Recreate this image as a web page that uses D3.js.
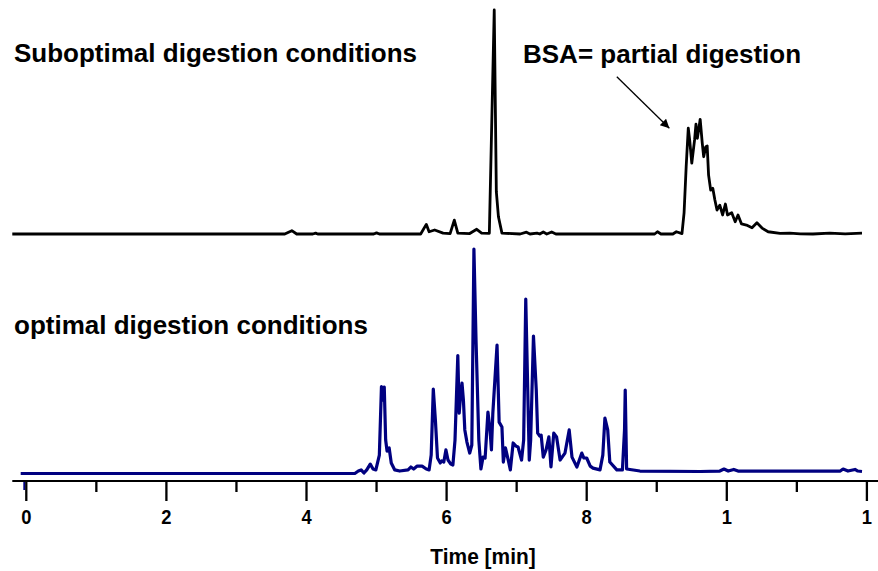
<!DOCTYPE html>
<html>
<head>
<meta charset="utf-8">
<script src="https://cdn.jsdelivr.net/npm/d3@7/dist/d3.min.js"></script>
<style>
  html, body { margin: 0; padding: 0; background: #fff; }
  svg { display: block; }
  text { font-family: "Liberation Sans", Arial, Helvetica, sans-serif; font-weight: bold; fill: #000; }
</style>
</head>
<body>
<svg id="chart" width="878" height="571"></svg>
<script>
// ---- Data (time in min, signal in % of the panel's largest peak) ----
const topTime = [-0.20, 3.69, 3.79, 3.86, 4.09, 4.13, 4.16, 4.96, 5.00, 5.04, 5.63, 5.71, 5.75, 5.83, 5.95, 6.05, 6.11, 6.16, 6.33, 6.43, 6.50, 6.61, 6.68, 6.71, 6.74, 6.79, 7.05, 7.14, 7.19, 7.29, 7.33, 7.38, 7.43, 7.50, 7.56, 8.97, 9.01, 9.06, 9.23, 9.28, 9.36, 9.39, 9.42, 9.45, 9.47, 9.50, 9.54, 9.56, 9.58, 9.62, 9.65, 9.67, 9.70, 9.72, 9.74, 9.77, 9.80, 9.83, 9.86, 9.90, 9.94, 9.98, 10.01, 10.07, 10.12, 10.16, 10.21, 10.28, 10.36, 10.43, 10.51, 10.59, 10.76, 10.90, 11.05, 11.23, 11.47, 11.69, 11.93];
const topSignal = [0, 0, 1.5, 0, 0, 0.4, 0, 0, 0.5, 0, 0, 4.3, 1.0, 1.8, 0.4, 0.2, 6.2, 0.4, 0.2, 2.1, 0.4, 0.3, 100, 18.9, 7.7, 0.4, 0, 0.8, 0, 0.4, 0, 0.9, 0, 0.9, 0, 0, 1.0, 0, 0, 1.0, 0.2, 9.4, 30, 47.2, 42, 31.6, 42, 49, 42.7, 51.2, 40.5, 34.5, 39, 39.3, 26.3, 19.6, 20.4, 15.2, 10.7, 12.9, 8.5, 13.4, 8.5, 9.5, 5.5, 8.5, 4.5, 4.0, 2.8, 5.0, 2.5, 1.0, 0.3, 0.4, 0.1, 0, 0.4, 0.1, 0.4];

const bottomTime = [-0.08, 4.69, 4.74, 4.78, 4.82, 4.86, 4.91, 4.95, 4.99, 5.04, 5.07, 5.09, 5.11, 5.13, 5.15, 5.18, 5.21, 5.26, 5.33, 5.45, 5.49, 5.53, 5.58, 5.65, 5.71, 5.75, 5.78, 5.81, 5.84, 5.87, 5.91, 5.93, 5.96, 5.99, 6.02, 6.06, 6.09, 6.12, 6.16, 6.18, 6.20, 6.22, 6.24, 6.26, 6.29, 6.33, 6.36, 6.39, 6.42, 6.46, 6.49, 6.52, 6.55, 6.59, 6.62, 6.64, 6.66, 6.72, 6.75, 6.79, 6.81, 6.84, 6.88, 6.91, 6.95, 6.99, 7.02, 7.07, 7.10, 7.13, 7.18, 7.20, 7.24, 7.28, 7.30, 7.33, 7.35, 7.38, 7.42, 7.46, 7.49, 7.53, 7.57, 7.62, 7.69, 7.75, 7.79, 7.86, 7.93, 7.96, 8.00, 8.05, 8.09, 8.19, 8.23, 8.26, 8.30, 8.33, 8.43, 8.51, 8.54, 8.55, 8.57, 8.76, 9.62, 9.90, 9.96, 10.02, 10.10, 10.16, 11.62, 11.66, 11.73, 11.83, 11.87, 11.93];
const bottomSignal = [0, 0, 1.1, 1.6, 0.2, 1.6, 4.2, 2.0, 1.6, 8.2, 38.7, 32.7, 38.5, 14.9, 10.0, 11.4, 4.7, 1.6, 1.1, 1.6, 2.9, 2.0, 3.3, 3.3, 2.0, 1.6, 8.2, 37.6, 23.8, 6.9, 4.7, 5.6, 5.1, 10.5, 6.0, 4.2, 3.8, 14.9, 52.5, 26.9, 35.0, 40.3, 32.7, 19.4, 14.0, 9.1, 12.7, 100, 59.5, 14.9, 2.0, 7.3, 6.9, 27.4, 19.4, 10.5, 26.9, 57.2, 22.9, 20.7, 5.1, 11.4, 6.0, 1.6, 13.6, 12.2, 11.8, 6.0, 14.9, 77.7, 6.0, 14.9, 61.2, 37.2, 18.0, 16.7, 17.1, 7.3, 10.5, 16.3, 2.9, 18.0, 16.3, 6.0, 9.1, 19.4, 7.3, 2.9, 9.1, 6.9, 6.9, 3.3, 2.4, 1.6, 8.2, 24.7, 19.4, 5.1, 1.6, 1.6, 19.4, 37.2, 2.0, 1.1, 0.9, 1.1, 2.0, 1.1, 1.8, 1.1, 1.1, 2.0, 1.1, 1.8, 1.1, 0.9];

const majorTicks = [0, 2, 4, 6, 8, 10, 12];
const tickLabels = ["0", "2", "4", "6", "8", "1", "1"];
const minorTicks = [1, 3, 5, 7, 9, 11];

// Annotation arrow (time, top signal)
const arrowFrom = [8.43, 70.2];
const arrowTo = [9.18, 47.2];

// ---- Scales ----
const svg = d3.select("#chart");
const x = d3.scaleLinear().domain([0, 12]).range([26.3, 866.9]);
const yTop = d3.scaleLinear().domain([0, 100]).range([234, 10]);
const yBot = d3.scaleLinear().domain([0, 100]).range([473.5, 249]);
const axisY = 481;

// ---- Traces ----
const topData = topTime.map((t, i) => [t, topSignal[i]]);
const botData = bottomTime.map((t, i) => [t, bottomSignal[i]]);

svg.append("path")
  .datum(topData)
  .attr("fill", "none")
  .attr("stroke", "#000")
  .attr("stroke-width", 2.8)
  .attr("stroke-linejoin", "round")
  .attr("d", d3.line().x(d => x(d[0])).y(d => yTop(d[1])));

svg.append("path")
  .datum(botData)
  .attr("fill", "none")
  .attr("stroke", "#000080")
  .attr("stroke-width", 3.2)
  .attr("stroke-linejoin", "round")
  .attr("d", d3.line().x(d => x(d[0])).y(d => yBot(d[1])));

// ---- Axis ----
const axisG = svg.append("g");
axisG.append("line")
  .attr("x1", x(0) - 2).attr("x2", x(0) - 2)
  .attr("y1", axisY).attr("y2", axisY + 9)
  .attr("stroke", "#000080").attr("stroke-width", 2);

axisG.append("line")
  .attr("x1", x(-0.2)).attr("x2", 880)
  .attr("y1", axisY).attr("y2", axisY)
  .attr("stroke", "#000").attr("stroke-width", 2);

axisG.selectAll("line.major")
  .data(majorTicks).enter().append("line")
  .attr("class", "major")
  .attr("x1", d => x(d)).attr("x2", d => x(d))
  .attr("y1", axisY).attr("y2", axisY + 20)
  .attr("stroke", "#000").attr("stroke-width", 2.3);

axisG.selectAll("line.minor")
  .data(minorTicks).enter().append("line")
  .attr("class", "minor")
  .attr("x1", d => x(d)).attr("x2", d => x(d))
  .attr("y1", axisY).attr("y2", axisY + 11)
  .attr("stroke", "#000").attr("stroke-width", 2.3);

axisG.selectAll("text.tl")
  .data(majorTicks).enter().append("text")
  .attr("class", "tl")
  .attr("transform", d => `translate(${x(d)},523.5) scale(0.92,1)`)
  .attr("text-anchor", "middle")
  .style("font-size", "20px")
  .text((d, i) => tickLabels[i]);

svg.append("text")
  .attr("transform", "translate(483,563.5) scale(0.93,1)")
  .attr("text-anchor", "middle")
  .style("font-size", "22.5px")
  .text("Time [min]");

// ---- Labels ----
svg.append("text").attr("x", 14).attr("y", 62).style("font-size", "26px")
  .text("Suboptimal digestion conditions");
svg.append("text").attr("x", 523).attr("y", 63).style("font-size", "26px")
  .text("BSA= partial digestion");
svg.append("text").attr("x", 14).attr("y", 334).style("font-size", "26px")
  .text("optimal digestion conditions");

// ---- Arrow ----
const defs = svg.append("defs");
defs.append("marker")
  .attr("id", "arrowhead")
  .attr("viewBox", "0 0 10 10")
  .attr("refX", 10).attr("refY", 5)
  .attr("markerUnits", "userSpaceOnUse")
  .attr("markerWidth", 11).attr("markerHeight", 9)
  .attr("orient", "auto")
  .append("path").attr("d", "M0,0 L10,5 L0,10 Z").attr("fill", "#000");

svg.append("line")
  .attr("x1", x(arrowFrom[0])).attr("y1", yTop(arrowFrom[1]))
  .attr("x2", x(arrowTo[0])).attr("y2", yTop(arrowTo[1]))
  .attr("stroke", "#000").attr("stroke-width", 1.3)
  .attr("marker-end", "url(#arrowhead)");
</script>
</body>
</html>
